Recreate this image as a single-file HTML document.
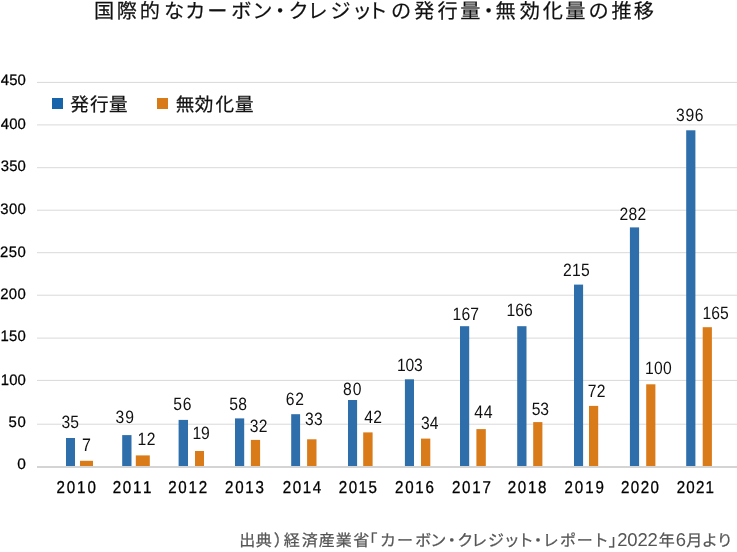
<!DOCTYPE html>
<html lang="ja"><head><meta charset="utf-8"><title>国際的なカーボン・クレジットの発行量・無効化量の推移</title>
<style>
html,body{margin:0;padding:0;background:#fff;}
body{width:737px;height:552px;overflow:hidden;}
svg{display:block;text-rendering:geometricPrecision;font-family:"Liberation Sans","Noto Sans CJK JP",sans-serif;}
.j{font-family:"Liberation Sans","Noto Sans CJK JP",sans-serif;}
</style></head><body>
<svg width="737" height="552" viewBox="0 0 737 552">
<rect width="737" height="552" fill="#fff"/>
<text class="j" x="94.05 116.71 139.79 164.09 185.21 207.26 231.17 252.35 270.05 288.39 307.45 330.39 351.93 367.47 390.99 413.94 437.55 460.23 478.55 495.54 519.69 542.67 565.23 588.44 611.48 633.85" y="18.1" font-size="20.2" fill="#111" stroke="#111" stroke-width="0.2">国際的なカーボン・クレジットの発行量・無効化量の推移</text>
<rect x="37" y="81.9" width="700" height="1" fill="#d9d9d9"/>
<rect x="37" y="124.4" width="700" height="1" fill="#d9d9d9"/>
<rect x="37" y="167.2" width="700" height="1" fill="#d9d9d9"/>
<rect x="37" y="209.7" width="700" height="1" fill="#d9d9d9"/>
<rect x="37" y="252.2" width="700" height="1" fill="#d9d9d9"/>
<rect x="37" y="294.7" width="700" height="1" fill="#d9d9d9"/>
<rect x="37" y="337.6" width="700" height="1" fill="#d9d9d9"/>
<rect x="37" y="379.9" width="700" height="1" fill="#d9d9d9"/>
<rect x="37" y="423.7" width="700" height="1" fill="#d9d9d9"/>
<text transform="scale(0.9800 1)" x="0.67 9.32 17.96" y="84.9" font-size="15.19" fill="#000" stroke="#000" stroke-width="0.25">450</text>
<text transform="scale(0.9800 1)" x="0.77 9.37 17.96" y="128.7" font-size="15.19" fill="#000" stroke="#000" stroke-width="0.25">400</text>
<text transform="scale(0.9800 1)" x="0.75 9.35 17.96" y="170.6" font-size="15.19" fill="#000" stroke="#000" stroke-width="0.25">350</text>
<text transform="scale(0.9800 1)" x="0.24 9.1 17.96" y="214" font-size="15.19" fill="#000" stroke="#000" stroke-width="0.25">300</text>
<text transform="scale(0.9800 1)" x="0.05 9.01 17.96" y="257" font-size="15.19" fill="#000" stroke="#000" stroke-width="0.25">250</text>
<text transform="scale(0.9800 1)" x="0.15 9.06 17.96" y="299" font-size="15.19" fill="#000" stroke="#000" stroke-width="0.25">200</text>
<text transform="scale(0.9800 1)" x="0.48 9.22 17.96" y="341" font-size="15.19" fill="#000" stroke="#000" stroke-width="0.25">150</text>
<text transform="scale(0.9800 1)" x="0.78 9.37 17.96" y="384.8" font-size="15.19" fill="#000" stroke="#000" stroke-width="0.25">100</text>
<text transform="scale(0.9800 1)" x="8.68 17.96" y="427.1" font-size="15.19" fill="#000" stroke="#000" stroke-width="0.25">50</text>
<text transform="scale(1.0188 1)" x="16.98" y="469" font-size="15.19" fill="#000" stroke="#000" stroke-width="0.25">0</text>
<rect x="52" y="98" width="11" height="11" fill="#1664aa"/>
<rect x="157" y="98" width="11" height="11" fill="#d97a18"/>
<text class="j" x="70.14 89.94 109.03" y="110.5" font-size="18.6" fill="#111" stroke="#111" stroke-width="0.25">発行量</text>
<text class="j" x="175.64 194.81 215.46 235.08" y="110.5" font-size="18.6" fill="#111" stroke="#111" stroke-width="0.25">無効化量</text>
<rect x="66" y="438" width="9" height="28" fill="#2e6eaa"/>
<rect x="122.2" y="435.1" width="9.3" height="30.9" fill="#2e6eaa"/>
<rect x="178.6" y="419.9" width="9.4" height="46.1" fill="#2e6eaa"/>
<rect x="235" y="418.4" width="9.2" height="47.6" fill="#2e6eaa"/>
<rect x="291.2" y="414.2" width="8.9" height="51.8" fill="#2e6eaa"/>
<rect x="348" y="400" width="9.1" height="66" fill="#2e6eaa"/>
<rect x="404.9" y="379.3" width="9.1" height="86.7" fill="#2e6eaa"/>
<rect x="460" y="326.2" width="9.2" height="139.8" fill="#2e6eaa"/>
<rect x="517.2" y="326.2" width="9.3" height="139.8" fill="#2e6eaa"/>
<rect x="574" y="284.6" width="9.1" height="181.4" fill="#2e6eaa"/>
<rect x="629.9" y="227.4" width="9.2" height="238.6" fill="#2e6eaa"/>
<rect x="686.2" y="130.3" width="9.2" height="335.7" fill="#2e6eaa"/>
<rect x="80" y="460.8" width="13" height="5.2" fill="#da7b1a"/>
<rect x="135.8" y="455.4" width="14" height="10.6" fill="#da7b1a"/>
<rect x="195" y="451" width="9" height="15" fill="#da7b1a"/>
<rect x="250.9" y="439.9" width="9.2" height="26.1" fill="#da7b1a"/>
<rect x="307.1" y="439.3" width="9.4" height="26.7" fill="#da7b1a"/>
<rect x="363.2" y="432.4" width="9.4" height="33.6" fill="#da7b1a"/>
<rect x="421" y="438.6" width="9.3" height="27.4" fill="#da7b1a"/>
<rect x="476.4" y="429.1" width="9.4" height="36.9" fill="#da7b1a"/>
<rect x="533.2" y="422.1" width="9.2" height="43.9" fill="#da7b1a"/>
<rect x="589" y="405.9" width="9.2" height="60.1" fill="#da7b1a"/>
<rect x="646.2" y="384.3" width="9.2" height="81.7" fill="#da7b1a"/>
<rect x="702.7" y="327.2" width="9.2" height="138.8" fill="#da7b1a"/>
<rect x="37" y="466" width="700" height="2" fill="#d4d4d4"/>
<text transform="scale(0.8800 1)" x="69.89 79.7" y="427.83" font-size="17.83" fill="#111" stroke="#fff" stroke-width="1.6" paint-order="stroke">35</text>
<text transform="scale(0.8800 1)" x="131.14 142.29" y="422.88" font-size="17.83" fill="#111" stroke="#fff" stroke-width="1.6" paint-order="stroke">39</text>
<text transform="scale(0.8800 1)" x="196.9 207.8" y="409.98" font-size="17.83" fill="#111" stroke="#fff" stroke-width="1.6" paint-order="stroke">56</text>
<text transform="scale(0.8800 1)" x="260.54 270.86" y="410.08" font-size="17.83" fill="#111" stroke="#fff" stroke-width="1.6" paint-order="stroke">58</text>
<text transform="scale(0.8800 1)" x="324.78 335.64" y="404.88" font-size="17.83" fill="#111" stroke="#fff" stroke-width="1.6" paint-order="stroke">62</text>
<text transform="scale(0.8800 1)" x="389.91 400.89" y="394.83" font-size="17.83" fill="#111" stroke="#fff" stroke-width="1.6" paint-order="stroke">80</text>
<text transform="scale(0.8800 1)" x="451.14 460.83 470.53" y="370.98" font-size="17.83" fill="#111" stroke="#fff" stroke-width="1.6" paint-order="stroke">103</text>
<text transform="scale(0.8800 1)" x="514.21 524.3 534.39" y="319.77" font-size="17.83" fill="#111" stroke="#fff" stroke-width="1.6" paint-order="stroke">167</text>
<text transform="scale(0.8800 1)" x="575.57 585.49 595.41" y="315.83" font-size="17.83" fill="#111" stroke="#fff" stroke-width="1.6" paint-order="stroke">166</text>
<text transform="scale(0.8800 1)" x="639.79 650.02 660.26" y="275.93" font-size="17.83" fill="#111" stroke="#fff" stroke-width="1.6" paint-order="stroke">215</text>
<text transform="scale(0.8800 1)" x="703.88 714.13 724.39" y="219.72" font-size="17.83" fill="#111" stroke="#fff" stroke-width="1.6" paint-order="stroke">282</text>
<text transform="scale(0.8800 1)" x="768.3 778.9 789.5" y="120.88" font-size="17.83" fill="#111" stroke="#fff" stroke-width="1.6" paint-order="stroke">396</text>
<text transform="scale(0.8874 1)" x="92.27" y="451.23" font-size="18.1" fill="#111" stroke="#fff" stroke-width="1.6" paint-order="stroke">7</text>
<text transform="scale(0.8800 1)" x="156.37 166.66" y="444.88" font-size="17.83" fill="#111" stroke="#fff" stroke-width="1.6" paint-order="stroke">12</text>
<text transform="scale(0.8800 1)" x="218.87 228.43" y="439.02" font-size="17.83" fill="#111" stroke="#fff" stroke-width="1.6" paint-order="stroke">19</text>
<text transform="scale(0.8800 1)" x="283.87 294.05" y="431.77" font-size="17.83" fill="#111" stroke="#fff" stroke-width="1.6" paint-order="stroke">32</text>
<text transform="scale(0.8800 1)" x="346.71 356.89" y="424.88" font-size="17.83" fill="#111" stroke="#fff" stroke-width="1.6" paint-order="stroke">33</text>
<text transform="scale(0.8800 1)" x="413.91 424.05" y="423.18" font-size="17.83" fill="#111" stroke="#fff" stroke-width="1.6" paint-order="stroke">42</text>
<text transform="scale(0.8800 1)" x="478.53 488.22" y="428.68" font-size="17.83" fill="#111" stroke="#fff" stroke-width="1.6" paint-order="stroke">34</text>
<text transform="scale(0.8800 1)" x="539.02 549.67" y="418.28" font-size="18.1" fill="#111" stroke="#fff" stroke-width="1.6" paint-order="stroke">44</text>
<text transform="scale(0.8800 1)" x="604.29 613.82" y="415.12" font-size="17.83" fill="#111" stroke="#fff" stroke-width="1.6" paint-order="stroke">53</text>
<text transform="scale(0.8800 1)" x="667.84 678.03" y="397.08" font-size="17.83" fill="#111" stroke="#fff" stroke-width="1.6" paint-order="stroke">72</text>
<text transform="scale(0.8800 1)" x="733.07 743.23 753.39" y="373.77" font-size="17.83" fill="#111" stroke="#fff" stroke-width="1.6" paint-order="stroke">100</text>
<text transform="scale(0.8800 1)" x="798.19 808.2 818.22" y="319.18" font-size="17.83" fill="#111" stroke="#fff" stroke-width="1.6" paint-order="stroke">165</text>
<text transform="scale(0.8800 1)" x="64.25 75.93 87.61 99.3" y="493" font-size="17.19" fill="#000" stroke="#000" stroke-width="0.3">2010</text>
<text transform="scale(0.8800 1)" x="128 139.55 151.1 162.64" y="493" font-size="17.19" fill="#000" stroke="#000" stroke-width="0.3">2011</text>
<text transform="scale(0.8800 1)" x="191.07 202.62 214.18 225.74" y="493" font-size="17.19" fill="#000" stroke="#000" stroke-width="0.3">2012</text>
<text transform="scale(0.8800 1)" x="255.73 267.25 278.77 290.29" y="493" font-size="17.19" fill="#000" stroke="#000" stroke-width="0.3">2013</text>
<text transform="scale(0.8800 1)" x="321.18 332.62 344.05 355.49" y="493" font-size="17.19" fill="#000" stroke="#000" stroke-width="0.3">2014</text>
<text transform="scale(0.8800 1)" x="385.04 396.29 407.53 418.78" y="493" font-size="17.19" fill="#000" stroke="#000" stroke-width="0.3">2015</text>
<text transform="scale(0.8800 1)" x="448.91 460.43 471.95 483.47" y="493" font-size="17.19" fill="#000" stroke="#000" stroke-width="0.3">2016</text>
<text transform="scale(0.8800 1)" x="513.57 525.12 536.68 548.24" y="493" font-size="17.19" fill="#000" stroke="#000" stroke-width="0.3">2017</text>
<text transform="scale(0.8800 1)" x="576.86 588.38 599.9 611.42" y="493" font-size="17.19" fill="#000" stroke="#000" stroke-width="0.3">2018</text>
<text transform="scale(0.8800 1)" x="641.52 653.25 664.98 676.71" y="493" font-size="17.19" fill="#000" stroke="#000" stroke-width="0.3">2019</text>
<text transform="scale(0.8800 1)" x="705.61 716.84 728.07 739.3" y="493" font-size="17.19" fill="#000" stroke="#000" stroke-width="0.3">2020</text>
<text transform="scale(0.8800 1)" x="768.91 779.89 790.87 801.85" y="493" font-size="17.19" fill="#000" stroke="#000" stroke-width="0.3">2021</text>
<text class="j" y="546" font-size="16" fill="#555"><tspan x="239.15 255.86 273.74 283.76 301.69 318.64 335.69 353.29 361.42 379.94 397.11 415.3 430.29 443.8 457.13 471.17 488.06 503.72 517.84 530.1 542.72 559.99 576.76 592.69 608.53" stroke="#555" stroke-width="0.25">出典）経済産業省「カーボン・クレジット・レポート」</tspan><tspan x="617.18 627.32 637.45 647.58" font-size="18.47">2022</tspan><tspan x="658.78" stroke="#555" stroke-width="0.25">年</tspan><tspan x="675.85" font-size="18.47">6</tspan><tspan x="686.35 701.75 716.72" stroke="#555" stroke-width="0.25">月より</tspan></text>
</svg>
</body></html>
